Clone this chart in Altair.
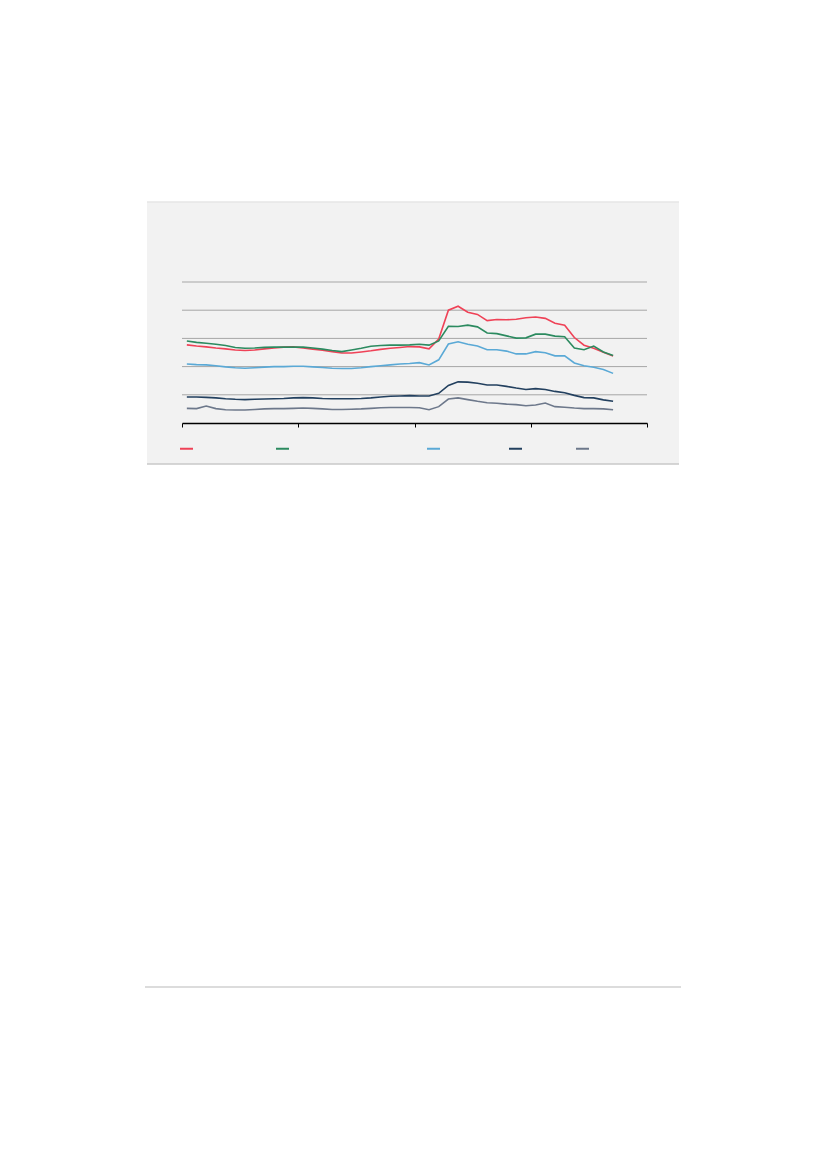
import altair as alt
import pandas as pd

# ---- data ----
periods = list(range(45))
red_series = [2.77, 2.73, 2.70, 2.66, 2.63, 2.59, 2.57, 2.59, 2.63, 2.66,
              2.69, 2.70, 2.66, 2.62, 2.58, 2.53, 2.48, 2.48, 2.52, 2.56,
              2.61, 2.65, 2.68, 2.71, 2.70, 2.63, 2.98, 4.00, 4.14, 3.93,
              3.85, 3.63, 3.67, 3.66, 3.68, 3.73, 3.76, 3.71, 3.54, 3.47,
              3.03, 2.76, 2.65, 2.51, 2.38]
green_series = [2.91, 2.86, 2.83, 2.79, 2.75, 2.68, 2.65, 2.66, 2.68, 2.69,
                2.69, 2.69, 2.69, 2.66, 2.62, 2.57, 2.53, 2.59, 2.65, 2.72,
                2.75, 2.76, 2.76, 2.77, 2.79, 2.76, 2.91, 3.43, 3.42, 3.47,
                3.41, 3.19, 3.17, 3.09, 3.01, 3.02, 3.15, 3.15, 3.08, 3.06,
                2.66, 2.60, 2.73, 2.52, 2.39]
blue_series = [2.09, 2.07, 2.06, 2.03, 1.99, 1.96, 1.94, 1.96, 1.98, 2.00,
               2.00, 2.01, 2.01, 1.99, 1.97, 1.94, 1.93, 1.93, 1.96, 2.00,
               2.03, 2.06, 2.09, 2.11, 2.14, 2.06, 2.24, 2.80, 2.88, 2.79,
               2.73, 2.60, 2.60, 2.55, 2.45, 2.45, 2.53, 2.49, 2.38, 2.38,
               2.13, 2.03, 1.98, 1.90, 1.76]
navy_series = [0.92, 0.92, 0.91, 0.89, 0.86, 0.84, 0.83, 0.84, 0.85, 0.86,
               0.87, 0.89, 0.90, 0.89, 0.87, 0.86, 0.86, 0.86, 0.87, 0.89,
               0.92, 0.95, 0.96, 0.97, 0.96, 0.96, 1.05, 1.33, 1.46, 1.45,
               1.41, 1.35, 1.35, 1.30, 1.24, 1.19, 1.22, 1.19, 1.12, 1.07,
               0.98, 0.90, 0.89, 0.82, 0.77]
gray_series = [0.52, 0.51, 0.60, 0.51, 0.47, 0.46, 0.46, 0.48, 0.50, 0.51,
               0.51, 0.52, 0.53, 0.52, 0.50, 0.48, 0.48, 0.49, 0.50, 0.52,
               0.54, 0.55, 0.55, 0.55, 0.54, 0.47, 0.58, 0.85, 0.89, 0.83,
               0.77, 0.72, 0.70, 0.67, 0.65, 0.61, 0.64, 0.71, 0.58, 0.56,
               0.53, 0.51, 0.51, 0.50, 0.47]

series_names = ["s1", "s2", "s3", "s4", "s5"]
series_colors = ["#ef4257", "#2b8a5f", "#5aa9d6", "#23405f", "#6d788b"]
legend_label_widths = [18, 33, 14, 10, 4]   # blank label lengths (characters)
grid_values = [1, 2, 3, 4, 5]
x_tick_values = [0, 12, 24, 36, 48]

rows = []
for name, vals in zip(series_names,
                      [red_series, green_series, blue_series, navy_series, gray_series]):
    for p, v in zip(periods, vals):
        rows.append({"period": p, "series": name, "value": v})
df = pd.DataFrame(rows)

x_scale = alt.Scale(domain=[0, 48], nice=False, zero=False)
y_scale = alt.Scale(domain=[0, 5], nice=False)

# blank legend labels (the reference shows no visible text); U+2800 is a blank glyph
BLANK = chr(0x2800)
parts = []
for name, n in zip(series_names[:-1], legend_label_widths[:-1]):
    parts.append(f"datum.value === '{name}' ? '{BLANK * n}' : ")
label_expr = "".join(parts) + f"'{BLANK * legend_label_widths[-1]}'"

blank = alt.Data(values=[{}])

panel = alt.Chart(blank).mark_rect(fill="#f2f2f2").encode(
    x=alt.value(-35), x2=alt.value(497), y=alt.value(-80), y2=alt.value(182)
)
top_border = alt.Chart(blank).mark_rule(color="#e6e6e6", strokeWidth=1.5).encode(
    x=alt.value(-35), x2=alt.value(497), y=alt.value(-80)
)
bottom_border = alt.Chart(blank).mark_rule(color="#c8c8c8", strokeWidth=1.5).encode(
    x=alt.value(-35), x2=alt.value(497), y=alt.value(182)
)
page_rule = alt.Chart(blank).mark_rule(color="#dcdcdc", strokeWidth=2).encode(
    x=alt.value(-37), x2=alt.value(499), y=alt.value(705)
)

grid = alt.Chart(pd.DataFrame({"g": grid_values})).mark_rule(
    color="#a6a6a6", strokeWidth=1
).encode(y=alt.Y("g:Q", scale=y_scale, axis=None))

lines = alt.Chart(df).transform_calculate(
    xpos="datum.period + 0.5"
).mark_line(strokeWidth=1.6).encode(
    x=alt.X("xpos:Q", scale=x_scale,
            axis=alt.Axis(values=x_tick_values, grid=False, labels=False, title=None,
                          domainColor="#000000", tickColor="#000000", tickSize=4,
                          domainWidth=1.5, tickWidth=1, zindex=1)),
    y=alt.Y("value:Q", scale=y_scale, axis=None),
    color=alt.Color("series:N",
                    scale=alt.Scale(domain=series_names, range=series_colors),
                    legend=alt.Legend(orient="none", legendX=-3, legendY=159,
                                      direction="horizontal", title=None,
                                      symbolType="stroke", symbolSize=169,
                                      symbolStrokeWidth=2, labelExpr=label_expr,
                                      labelFont="DejaVu Sans", labelFontSize=5,
                                      labelColor="#f2f2f2",
                                      labelOffset=4, columnPadding=8, padding=0)),
)

chart = alt.layer(panel, top_border, bottom_border, page_rule, grid, lines).properties(
    width=465, height=141,
    padding={"left": 174, "top": 274, "right": 172, "bottom": 738},
    autosize=alt.AutoSizeParams(type="none"),
    background="#ffffff",
).configure_view(stroke=None)

chart.save("out.html", embed_options={"renderer": "svg", "actions": False})
